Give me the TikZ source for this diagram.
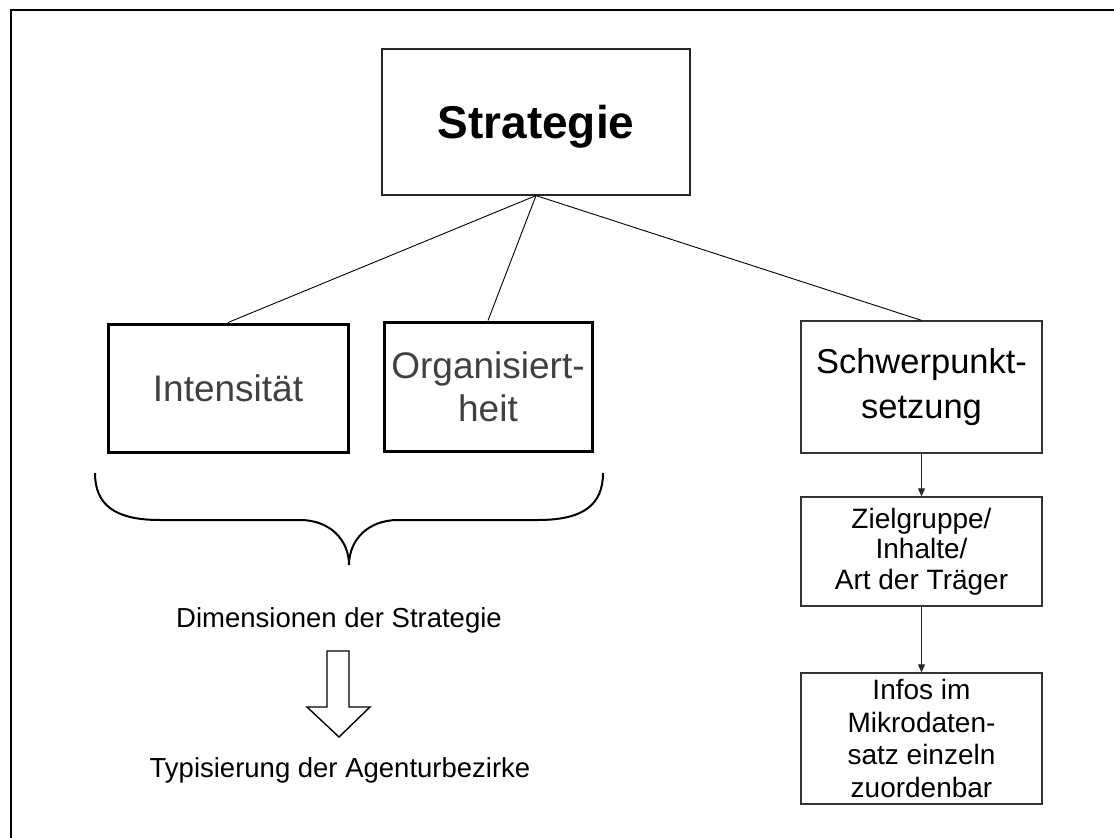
\documentclass[tikz,border=0pt]{standalone}
\usepackage{fontspec}
\setmainfont{Liberation Sans}
\usetikzlibrary{arrows.meta}
\definecolor{txtgray}{HTML}{404040}
\begin{document}
\begin{tikzpicture}[x=1pt,y=-1pt,
  box/.style={draw=black!80, line width=1.3pt, rectangle, inner sep=0pt, align=center},
  thickbox/.style={draw=black, line width=3pt, rectangle, inner sep=0pt, align=center, text=txtgray},
  link/.style={draw=black, line width=0.9pt},
  flow/.style={draw=black!85, line width=1pt, -{Triangle[length=8pt,width=7pt]}},
  lbl/.style={anchor=base, inner sep=0pt, font=\fontsize{27.5}{33}\selectfont}]
\useasboundingbox (0,0) rectangle (1114,838);
% outer frame (open to the right and bottom)
\draw[line width=2.2pt, line cap=rect] (11,838) -- (11,10) -- (1114,10);

\node[box, draw=black!85, line width=1.2pt, minimum width=308pt, minimum height=146pt,
      text height=33pt, text depth=0pt, font=\fontsize{46}{55}\selectfont\bfseries]
      (strat) at (536,122) {Strategie};
\node[thickbox, minimum width=240pt, minimum height=128pt, font=\fontsize{37}{43}\selectfont]
      (int) at (228,388) {Intensität};
\node[thickbox, minimum width=208pt, minimum height=129pt, font=\fontsize{37}{43}\selectfont]
      (org) at (488,386.5) {Organisiert-\\heit};
\node[box, minimum width=241pt, minimum height=132pt, font=\fontsize{34.5}{45}\selectfont]
      (schw) at (921.5,387) {Schwerpunkt-\\setzung};
\node[box, minimum width=241pt, minimum height=109pt, font=\fontsize{28}{30.5}\selectfont]
      (ziel) at (921.5,551.5) {Zielgruppe/\\Inhalte/\\Art der Träger};
\node[box, minimum width=241pt, minimum height=131pt, font=\fontsize{28}{32.7}\selectfont]
      (info) at (921.5,738.5) {Infos im\\Mikrodaten-\\satz einzeln\\zuordenbar};

\draw[link] (strat.south) -- (int.north);
\draw[link] (strat.south) -- (org.north);
\draw[link] (strat.south) -- (schw.north);
\draw[flow] (schw.south) -- (ziel.north);
\draw[flow] (ziel.south) -- (info.north);

% curly brace
\draw[line width=2pt] (95,473) .. controls (95,505) and (115,520) .. (160,520)
  -- (300,520) .. controls (330,520) and (349,540) .. (349,565)
  .. controls (349,540) and (368,520) .. (398,520)
  -- (538,520) .. controls (583,520) and (603,505) .. (603,473);

\node[lbl] (dim) at (339,627) {Dimensionen der Strategie};
\node[lbl] (typ) at (340,777) {Typisierung der Agenturbezirke};

% block arrow
\draw[line width=1.4pt, line join=miter] (327,651) -- (349,651) -- (349,707) -- (370,707)
  -- (339,737) -- (307,707) -- (327,707) -- cycle;
\end{tikzpicture}
\end{document}
